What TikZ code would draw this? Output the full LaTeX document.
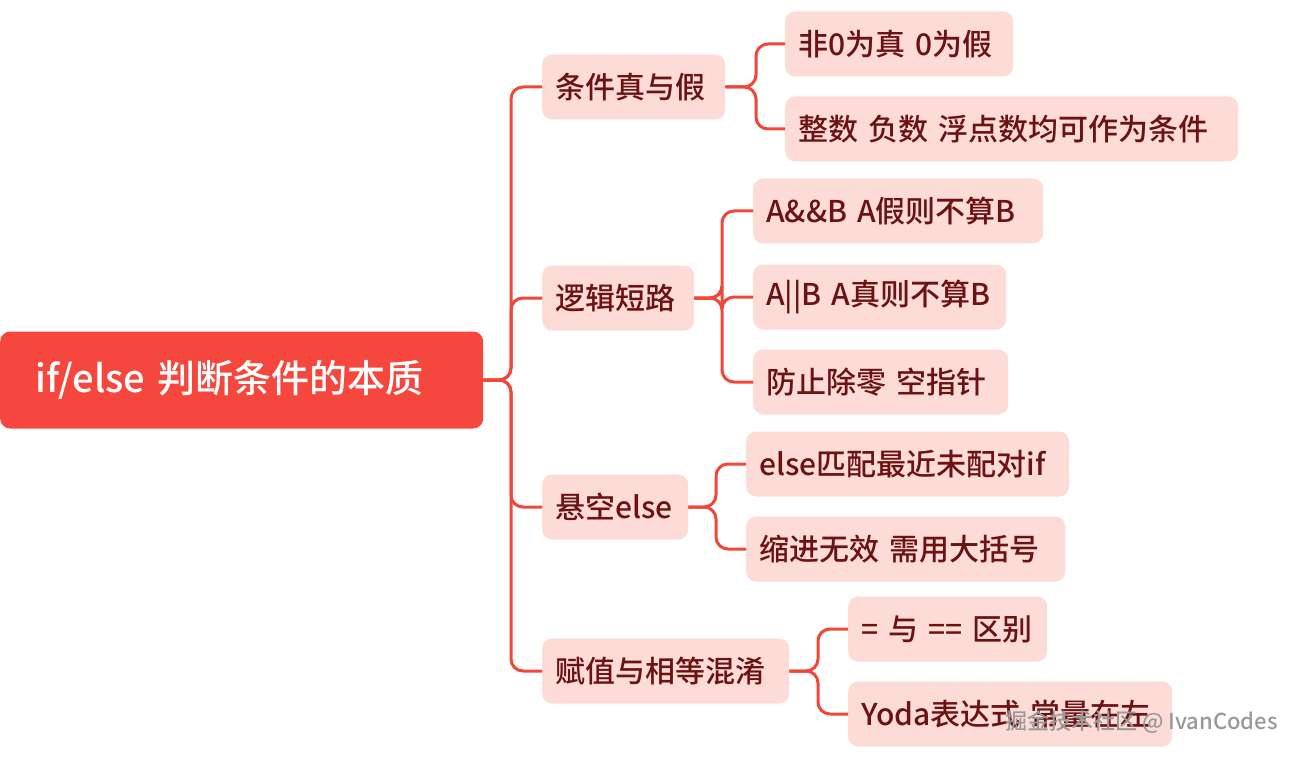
\documentclass[tikz,border=0pt]{standalone}
\usepackage{fontspec}
\setmainfont{Noto Sans CJK SC Medium}
\begin{document}
\begin{tikzpicture}[x=1pt,y=-1pt,
  rootbox/.style={fill=rootred,rounded corners=10pt,text=white,font=\fontsize{38}{40}\selectfont,inner xsep=35pt,inner ysep=0pt,anchor=west,minimum height=97pt,text width=#1,align=left},
  subbox/.style={fill=pinkbg,rounded corners=10pt,text=darktxt,font=\fontsize{30}{32}\selectfont,inner xsep=13pt,inner ysep=0pt,anchor=west,minimum height=65pt,text width=#1,align=left},
  link/.style={draw=linered,line width=3pt,rounded corners=12pt}]
\definecolor{rootred}{HTML}{F5473D}
\definecolor{pinkbg}{HTML}{FDDCD8}
\definecolor{darktxt}{HTML}{6B1212}
\definecolor{linered}{HTML}{F0473A}
\fill[white] (0,0) rectangle (1300,759);
\useasboundingbox (0,0) rectangle (1300,759);
\node[rootbox=413pt] (root) at (0,380) {if/else 判断条件的本质};
\node[subbox=157pt] (a) at (542,87) {条件真与假};
\node[subbox=126pt] (b) at (542,298) {逻辑短路};
\node[subbox=120pt] (c) at (542,507) {悬空else};
\node[subbox=221pt] (d) at (542,671) {赋值与相等混淆};
\node[subbox=202pt] (a1) at (785,44) {非0为真 0为假};
\node[subbox=427pt] (a2) at (785,129) {整数 负数 浮点数均可作为条件};
\node[subbox=264pt] (b1) at (753,211) {A\&\&B A假则不算B};
\node[subbox=227pt] (b2) at (753,297) {A||B A真则不算B};
\node[subbox=229pt] (b3) at (753,382) {防止除零 空指针};
\node[subbox=297pt] (c1) at (746,464) {else匹配最近未配对if};
\node[subbox=293pt] (c2) at (746,549) {缩进无效 需用大括号};
\node[subbox=173pt] (d1) at (848,629) {= 与 == 区别};
\node[subbox=298pt] (d2) at (848,714) {Yoda表达式 常量在左};
\foreach \t in {a,b,c,d} \draw[link] (root.east) -- (511,380) |- (\t.west);
\foreach \t in {a1,a2} \draw[link] (a.east) -- (756,87) |- (\t.west);
\foreach \t in {b1,b2,b3} \draw[link] (b.east) -- (722,298) |- (\t.west);
\foreach \t in {c1,c2} \draw[link] (c.east) -- (716,507) |- (\t.west);
\foreach \t in {d1,d2} \draw[link] (d.east) -- (818,671) |- (\t.west);
\node[anchor=east,text=gray!80,font=\fontsize{22}{24}\selectfont,inner sep=0pt] (wm) at (1278,722) {掘金技术社区 @ IvanCodes};
\end{tikzpicture}
\end{document}
